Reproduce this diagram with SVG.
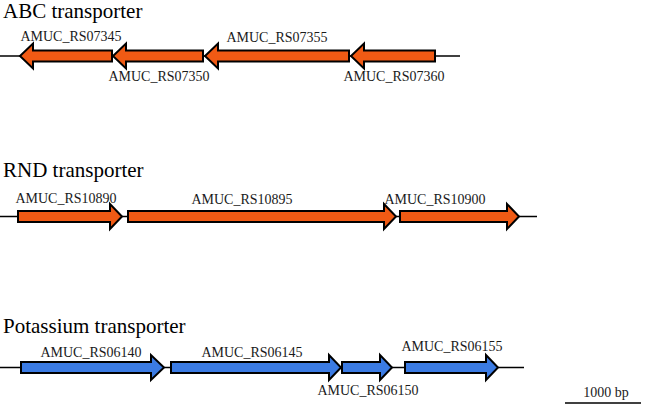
<svg xmlns="http://www.w3.org/2000/svg" width="649" height="405" viewBox="0 0 649 405" font-family="Liberation Serif">
<style>
  .title { font-size: 21px; fill: #000; }
  .lbl { font-size: 14px; fill: #1a1a1a; text-anchor: middle; }
  .bb { stroke: #000; stroke-width: 1.5; fill: none; }
  .orange { fill: #F05A14; stroke: #000; stroke-width: 2; stroke-linejoin: miter; }
  .blue { fill: #3B7BE3; stroke: #000; stroke-width: 2; stroke-linejoin: miter; }
</style>
<rect width="649" height="405" fill="#fff"/>

<g font-family="Liberation Serif">
<text class="title" x="3" y="18">ABC transporter</text>
<text class="title" x="3" y="177">RND transporter</text>
<text class="title" x="3" y="333">Potassium transporter</text>
</g>

<g id="backbones">
  <line class="bb" x1="0" y1="56" x2="460" y2="56"/>
  <line class="bb" x1="0" y1="216.5" x2="537" y2="216.5"/>
  <line class="bb" x1="0" y1="367.5" x2="524" y2="367.5"/>
</g>

<g font-family="Liberation Serif">
<!-- ABC transporter genes (leftward) -->
<g id="AMUC_RS07345">
  <path class="orange" d="M112,50.5 L33,50.5 L33,43.5 L20,56 L33,68.5 L33,61.5 L112,61.5 Z"/>
  <text class="lbl" x="71" y="41">AMUC_RS07345</text>
</g>
<g id="AMUC_RS07350">
  <path class="orange" d="M203,50.5 L126,50.5 L126,43.5 L113,56 L126,68.5 L126,61.5 L203,61.5 Z"/>
  <text class="lbl" x="159" y="81">AMUC_RS07350</text>
</g>
<g id="AMUC_RS07355">
  <path class="orange" d="M349,50.5 L218,50.5 L218,43.5 L205,56 L218,68.5 L218,61.5 L349,61.5 Z"/>
  <text class="lbl" x="277" y="42">AMUC_RS07355</text>
</g>
<g id="AMUC_RS07360">
  <path class="orange" d="M435,50.5 L364,50.5 L364,43.5 L351,56 L364,68.5 L364,61.5 L435,61.5 Z"/>
  <text class="lbl" x="394" y="81">AMUC_RS07360</text>
</g>

<!-- RND transporter genes (rightward) -->
<g id="AMUC_RS10890">
  <path class="orange" d="M18,211 L110,211 L110,204 L122,216.5 L110,229 L110,222 L18,222 Z"/>
  <text class="lbl" x="66" y="203">AMUC_RS10890</text>
</g>
<g id="AMUC_RS10895">
  <path class="orange" d="M128,211 L384,211 L384,204 L396,216.5 L384,229 L384,222 L128,222 Z"/>
  <text class="lbl" x="242" y="204">AMUC_RS10895</text>
</g>
<g id="AMUC_RS10900">
  <path class="orange" d="M400,211 L507,211 L507,204 L519,216.5 L507,229 L507,222 L400,222 Z"/>
  <text class="lbl" x="435" y="204">AMUC_RS10900</text>
</g>

<!-- Potassium transporter genes (rightward) -->
<g id="AMUC_RS06140">
  <path class="blue" d="M21,362 L151,362 L151,355 L164,367.5 L151,380 L151,373 L21,373 Z"/>
  <text class="lbl" x="91" y="357">AMUC_RS06140</text>
</g>
<g id="AMUC_RS06145">
  <path class="blue" d="M171,362 L329,362 L329,355 L341,367.5 L329,380 L329,373 L171,373 Z"/>
  <text class="lbl" x="252" y="357">AMUC_RS06145</text>
</g>
<g id="AMUC_RS06150">
  <path class="blue" d="M342,362 L380,362 L380,355 L392,367.5 L380,380 L380,373 L342,373 Z"/>
  <text class="lbl" x="368" y="395">AMUC_RS06150</text>
</g>
<g id="AMUC_RS06155">
  <path class="blue" d="M405,362 L486,362 L486,355 L498,367.5 L486,380 L486,373 L405,373 Z"/>
  <text class="lbl" x="452" y="351">AMUC_RS06155</text>
</g>

<g id="scale">
  <line x1="565" y1="403" x2="641" y2="403" stroke="#000" stroke-width="1.5"/>
  <text class="lbl" x="606" y="397" font-size="14">1000 bp</text>
</g>
</g>
</svg>
